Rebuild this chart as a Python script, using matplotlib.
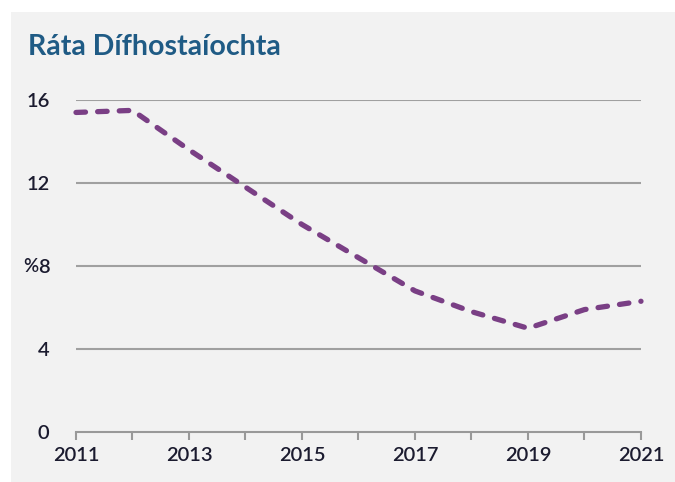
import matplotlib.pyplot as plt
from matplotlib.patches import Rectangle

years = [2011, 2012, 2013, 2014, 2015, 2016, 2017, 2018, 2019, 2020, 2021]
rate = [15.4, 15.5, 13.6, 11.8, 10.0, 8.4, 6.8, 5.8, 5.0, 5.9, 6.3]
xticks_major = [2011, 2013, 2015, 2017, 2019, 2021]
yticks = [0, 4, 8, 12, 16]
title = 'Ráta Dífhostaíochta'

plt.rcParams['font.family'] = ['Lato', 'DejaVu Sans']

fig = plt.figure(figsize=(6.75, 4.82), dpi=100, facecolor='white')
fig.patches.append(Rectangle((11 / 675, 0), 1, 1 - 12 / 482, transform=fig.transFigure,
                             facecolor='#f2f2f2', edgecolor='none', zorder=-10))

ax = fig.add_axes([76 / 675, 1 - 432 / 482, 565 / 675, 332 / 482])
ax.set_facecolor('none')

ax.plot(years, rate, color='#7a3f85', lw=3.8, dashes=(1.8, 2.3),
        dash_capstyle='round', solid_capstyle='round', clip_on=False, zorder=3)

ax.set_xlim(2011, 2021)
ax.set_ylim(0, 16)
ax.set_xticks(years)
ax.set_xticklabels([str(y) if y in xticks_major else '' for y in years])
ax.set_yticks(yticks)
ax.set_yticklabels([str(v) for v in yticks])

for v in yticks[1:]:
    ax.axhline(v, color='#a0a0a0', lw=1.5, zorder=1)

for s in ['top', 'right', 'left']:
    ax.spines[s].set_visible(False)
ax.spines['bottom'].set_color('#999999')
ax.spines['bottom'].set_linewidth(1.5)

ax.tick_params(axis='x', length=6, width=1.5, color='#999999', pad=5,
               labelsize=14.5, labelcolor='#1b1b2f')
ax.tick_params(axis='y', length=0, pad=19, labelsize=14.5, labelcolor='#1b1b2f')
for lab in ax.get_xticklabels() + ax.get_yticklabels():
    lab.set_fontweight('semibold')

fig.text(23 / 675, 1 - 266 / 482, '%', fontsize=13.5, fontweight='semibold',
         color='#1b1b2f', ha='left', va='center')
fig.text(28 / 675, 1 - 47 / 482, title, fontsize=20.5, fontweight='bold', color='#1f5b85',
         ha='left', va='center')

fig.savefig('out.png', dpi=100, facecolor=fig.get_facecolor())
